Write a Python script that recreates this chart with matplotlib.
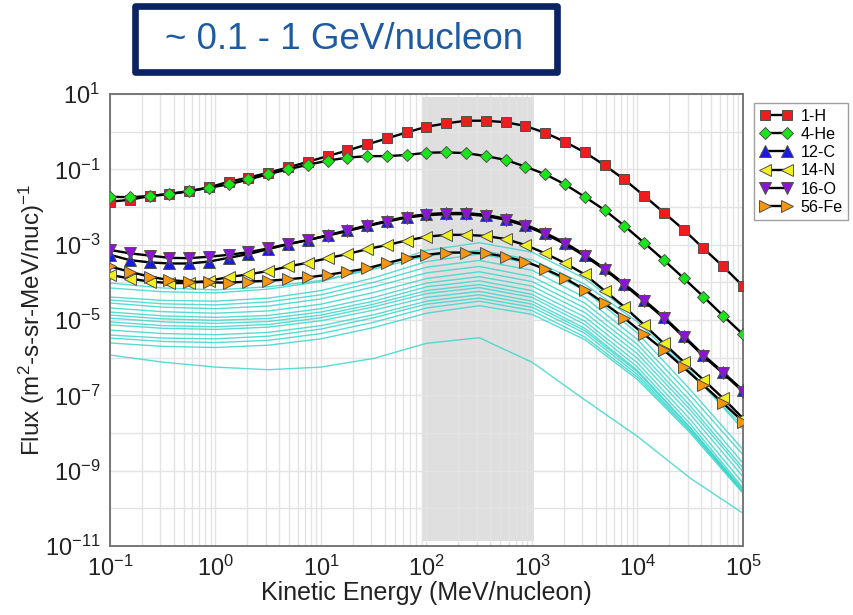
import numpy as np
import matplotlib
matplotlib.use('Agg')
import matplotlib.pyplot as plt
from matplotlib.patches import Rectangle
from matplotlib.ticker import FixedLocator, LogLocator, FuncFormatter, NullFormatter

plt.rcParams['font.family'] = ['Liberation Sans', 'DejaVu Sans']
plt.rcParams['mathtext.fontset'] = 'custom'
plt.rcParams['mathtext.rm'] = 'Liberation Sans'
plt.rcParams['mathtext.it'] = 'Liberation Sans:italic'

# kinetic energy grid of the marked series (MeV/nucleon), 33 points over 10^-1 .. 10^5
energy = np.logspace(-1, 5, 33)

# log10 of flux
h1 = [-1.86, -1.81, -1.71, -1.66, -1.58, -1.48, -1.33, -1.22, -1.09, -0.95, -0.80,
      -0.65, -0.50, -0.34, -0.18, -0.02, 0.13, 0.22, 0.29, 0.29, 0.25, 0.15,
      -0.03, -0.27, -0.55, -0.89, -1.27, -1.70, -2.15, -2.60, -3.10, -3.58, -4.10]
he4 = [-1.73, -1.74, -1.71, -1.65, -1.58, -1.49, -1.40, -1.27, -1.13, -1.00, -0.88,
       -0.77, -0.69, -0.65, -0.65, -0.62, -0.56, -0.55, -0.57, -0.65, -0.75, -0.93,
       -1.13, -1.40, -1.73, -2.08, -2.50, -2.95, -3.41, -3.89, -4.38, -4.89, -5.38]
c12 = [-3.27, -3.41, -3.47, -3.50, -3.50, -3.45, -3.35, -3.25, -3.12, -2.99, -2.88,
       -2.75, -2.62, -2.49, -2.37, -2.26, -2.19, -2.16, -2.16, -2.21, -2.31, -2.47,
       -2.69, -2.95, -3.27, -3.63, -4.04, -4.47, -4.92, -5.42, -5.93, -6.39, -6.87]
n14 = [-3.80, -3.90, -3.98, -4.02, -4.02, -3.96, -3.86, -3.79, -3.70, -3.58, -3.48,
       -3.36, -3.25, -3.12, -3.01, -2.89, -2.79, -2.74, -2.74, -2.77, -2.85, -3.01,
       -3.23, -3.49, -3.79, -4.22, -4.65, -5.13, -5.62, -6.11, -6.59, -7.08, -7.61]
o16 = [-3.14, -3.23, -3.29, -3.35, -3.36, -3.32, -3.27, -3.20, -3.10, -2.98, -2.88,
       -2.76, -2.64, -2.51, -2.39, -2.28, -2.22, -2.19, -2.19, -2.24, -2.34, -2.50,
       -2.72, -2.98, -3.30, -3.66, -4.07, -4.50, -4.95, -5.45, -5.96, -6.42, -6.90]
fe56 = [-3.58, -3.72, -3.85, -3.94, -3.98, -4.00, -4.01, -3.98, -3.96, -3.92, -3.87,
        -3.80, -3.72, -3.63, -3.49, -3.36, -3.27, -3.21, -3.21, -3.23, -3.32, -3.45,
        -3.65, -3.89, -4.20, -4.56, -4.95, -5.38, -5.80, -6.26, -6.73, -7.21, -7.70]

labels = ['1-H', '4-He', '12-C', '14-N', '16-O', '56-Fe']
colors = ['#ee1c1c', '#19e619', '#1a1ae6', '#f0f01e', '#8c14d2', '#f5960f']
markers = ['s', 'D', '^', '<', 'v', '>']
sizes = [7.5, 6.5, 8.5, 8.5, 8.5, 8.5]
series = [h1, he4, c12, n14, o16, fe56]

# other elements (thin cyan curves), half-decade grid
energy_other = np.logspace(-1, 5, 13)
others = [
    [-4.02, -4.15, -4.20, -4.12, -3.95, -3.65, -3.30, -3.15, -3.40, -4.05, -5.05, -6.40, -7.82],
    [-4.15, -4.25, -4.28, -4.18, -3.98, -3.62, -3.15, -2.95, -3.20, -3.90, -4.95, -6.35, -7.91],
    [-4.39, -4.48, -4.50, -4.42, -4.22, -3.88, -3.45, -3.25, -3.50, -4.22, -5.35, -6.85, -8.44],
    [-4.47, -4.57, -4.60, -4.52, -4.33, -4.00, -3.60, -3.42, -3.68, -4.40, -5.52, -7.00, -8.58],
    [-4.55, -4.66, -4.70, -4.63, -4.44, -4.12, -3.75, -3.58, -3.85, -4.55, -5.65, -7.15, -8.80],
    [-4.68, -4.78, -4.82, -4.76, -4.58, -4.27, -3.90, -3.72, -3.98, -4.68, -5.78, -7.28, -8.93],
    [-4.79, -4.89, -4.93, -4.88, -4.70, -4.40, -4.02, -3.85, -4.10, -4.80, -5.90, -7.38, -9.02],
    [-4.87, -4.97, -5.01, -4.96, -4.79, -4.50, -4.12, -3.96, -4.22, -4.92, -6.02, -7.50, -9.16],
    [-4.95, -5.05, -5.09, -5.04, -4.87, -4.58, -4.22, -4.06, -4.32, -5.03, -6.14, -7.64, -9.33],
    [-5.05, -5.15, -5.18, -5.12, -4.94, -4.65, -4.30, -4.14, -4.40, -5.12, -6.25, -7.76, -9.46],
    [-5.13, -5.22, -5.25, -5.19, -5.02, -4.74, -4.40, -4.24, -4.50, -5.22, -6.34, -7.86, -9.55],
    [-5.27, -5.36, -5.39, -5.33, -5.15, -4.86, -4.50, -4.33, -4.58, -5.28, -6.38, -7.86, -9.50],
    [-5.40, -5.48, -5.50, -5.43, -5.24, -4.94, -4.58, -4.42, -4.66, -5.35, -6.45, -7.92, -9.58],
    [-5.48, -5.57, -5.60, -5.54, -5.36, -5.06, -4.68, -4.50, -4.75, -5.45, -6.52, -7.95, -9.55],
    [-5.61, -5.70, -5.73, -5.67, -5.50, -5.20, -4.82, -4.62, -4.85, -5.52, -6.58, -8.00, -9.60],
    [-5.93, -6.12, -6.25, -6.32, -6.25, -6.02, -5.62, -5.47, -6.12, -7.12, -8.09, -9.20, -10.13],
]

band = (90, 1050)  # highlighted energy range

fig = plt.figure(figsize=(8.54, 6.15), dpi=100)
ax = fig.add_axes([0.1288, 0.1122, 0.7412, 0.735])

ax.axvspan(band[0], band[1], ymin=0.012, ymax=0.993, color='#dcdcdc', alpha=0.9, lw=0, zorder=0.5)

for o in others:
    ax.plot(energy_other, 10.0 ** np.array(o), color='#3ad6cc', lw=1.0, alpha=0.85, zorder=2)

for y, lab, c, m, s in zip(series, labels, colors, markers, sizes):
    ax.plot(energy, 10.0 ** np.array(y), color='black', lw=1.7, marker=m, ms=s,
            mfc=c, mec='#505050', mew=0.7, label=lab, zorder=3)

ax.set_xscale('log')
ax.set_yscale('log')
ax.set_xlim(1e-1, 1e5)
ax.set_ylim(1e-11, 1e1)

ax.xaxis.set_major_locator(FixedLocator(10.0 ** np.arange(-1, 6)))
ax.xaxis.set_minor_locator(LogLocator(base=10, subs=np.arange(2, 10), numticks=20))
ax.xaxis.set_minor_formatter(NullFormatter())
ax.yaxis.set_major_locator(FixedLocator(10.0 ** np.arange(-11, 2)))
ax.yaxis.set_minor_locator(FixedLocator([]))


def yfmt(v, pos):
    e = int(round(np.log10(v)))
    return r'$\mathdefault{10^{%d}}$' % e if e % 2 != 0 else ''


def xfmt(v, pos):
    return r'$\mathdefault{10^{%d}}$' % int(round(np.log10(v)))


ax.yaxis.set_major_formatter(FuncFormatter(yfmt))
ax.xaxis.set_major_formatter(FuncFormatter(xfmt))
ax.tick_params(which='both', length=0, labelsize=17, colors='#222222', pad=7)
ax.grid(True, which='major', color='#e3e3e3', lw=1.0, zorder=0)
ax.grid(True, which='minor', axis='x', color='#e3e3e3', lw=1.0, zorder=0)
ax.set_axisbelow(True)
for sp in ax.spines.values():
    sp.set_color('#777777')
    sp.set_linewidth(1.4)

ax.set_xlabel('Kinetic Energy (MeV/nucleon)', fontsize=18, color='#222222', labelpad=0)
ax.set_ylabel('Flux (m$^{2}$-s-sr-MeV/nuc)$^{-1}$', fontsize=17.5, color='#222222', labelpad=-2)

leg = ax.legend(loc='upper left', bbox_to_anchor=(1.018, 0.98), numpoints=2,
                fontsize=11.6, frameon=True, fancybox=False, edgecolor='#888888',
                handlelength=2.0, handletextpad=0.5, labelspacing=0.2,
                borderpad=0.35, borderaxespad=0)
leg.get_frame().set_linewidth(1.0)

# title box
fig.patches.append(Rectangle((0.1575, 0.883), 0.4947, 0.107, transform=fig.transFigure,
                             fill=False, edgecolor='#0b2263', lw=4.8, joinstyle='round'))
fig.text(0.403, 0.935, '~ 0.1 - 1 GeV/nucleon', fontsize=26.5, color='#1c5aa2',
         ha='center', va='center')

fig.savefig('out.png', dpi=100)
